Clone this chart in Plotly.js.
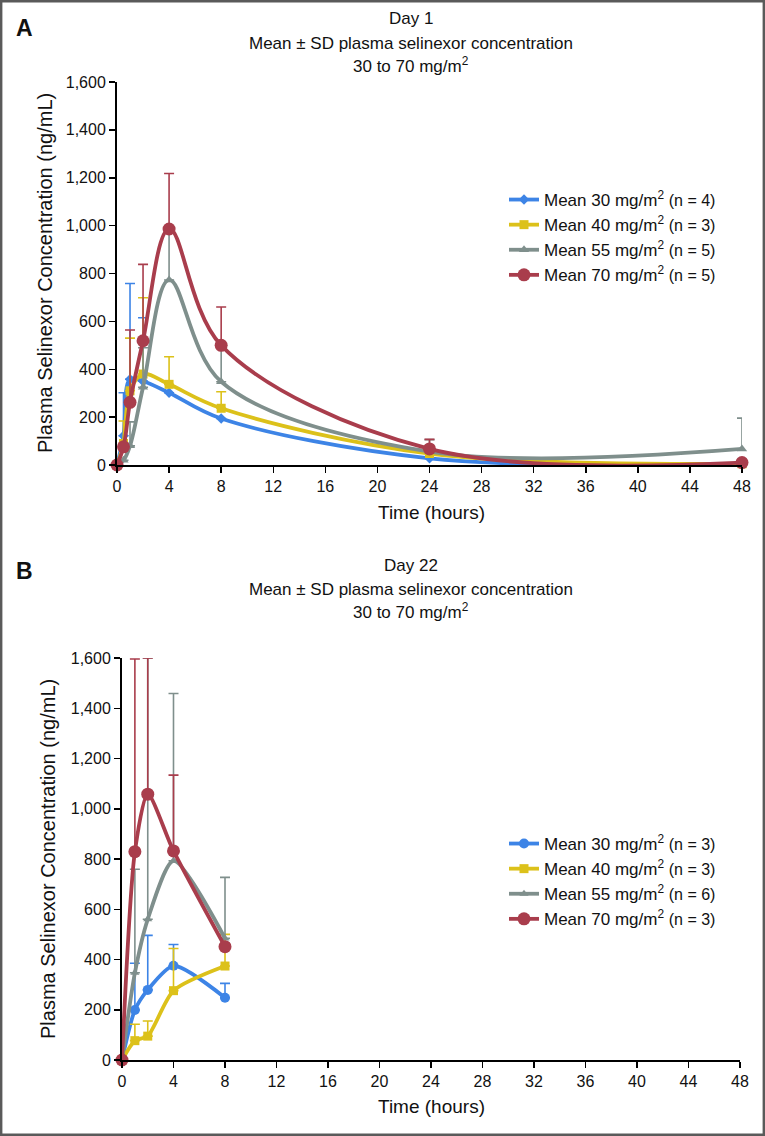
<!DOCTYPE html>
<html>
<head>
<meta charset="utf-8">
<script src="https://cdn.plot.ly/plotly-3.0.1.min.js"></script>
<style>
  html, body { margin: 0; padding: 0; background: #fff; }
  #chart { width: 765px; height: 1136px; }
</style>
</head>
<body>
<div id="chart"></div>
<script>
// ---------- Data ----------
const timeDay1 = [0, 0.5, 1, 2, 4, 8, 24, 48];
const day1Mean30 = [0, 122, 358, 350, 302, 194, 28, 3];
const day1Sd30   = [0, 180, 400, 265, 0, 0, 0, 0];
const day1Mean40 = [0, 90, 310, 380, 337, 237, 48, 5];
const day1Sd40   = [0, 94, 220, 319, 115, 69, 0, 0];
const day1Mean55 = [0, 20, 80, 325, 773, 348, 56, 67];
const day1Sd55   = [0, 0, 100, 165, 210, 150, 50, 129];
const day1Mean70 = [0, 76, 262, 519, 986, 500, 67, 10];
const day1Sd70   = [0, 0, 302, 319, 232, 160, 40, 0];

const timeDay22 = [0, 1, 2, 4, 8];
const day22Mean30 = [0, 199, 279, 375, 248];
const day22Sd30   = [0, 186, 217, 85, 57];
const day22Mean40 = [0, 77, 95, 276, 374];
const day22Sd40   = [0, 65, 60, 168, 126];
const day22Mean55 = [0, 347, 560, 793, 484];
const day22Sd55   = [0, 412, 1040, 666, 243];
const day22Mean70 = [0, 829, 1058, 832, 451];
const day22Sd70   = [0, 767, 542, 302, 0];

const legendDay1 = [
  "Mean 30 mg/m<sup>2</sup> <span style='font-size:16px'>(n = 4)</span>",
  "Mean 40 mg/m<sup>2</sup> <span style='font-size:16px'>(n = 3)</span>",
  "Mean 55 mg/m<sup>2</sup> <span style='font-size:16px'>(n = 5)</span>",
  "Mean 70 mg/m<sup>2</sup> <span style='font-size:16px'>(n = 5)</span>"
];
const legendDay22 = [
  "Mean 30 mg/m<sup>2</sup> <span style='font-size:16px'>(n = 3)</span>",
  "Mean 40 mg/m<sup>2</sup> <span style='font-size:16px'>(n = 3)</span>",
  "Mean 55 mg/m<sup>2</sup> <span style='font-size:16px'>(n = 6)</span>",
  "Mean 70 mg/m<sup>2</sup> <span style='font-size:16px'>(n = 3)</span>"
];
const xTicks = [0, 4, 8, 12, 16, 20, 24, 28, 32, 36, 40, 44, 48];
const xTitle = "Time (hours)";
const yTitle = "Plasma Selinexor Concentration (ng/mL)";

// ---------- Styles ----------
const COLORS = ["#3d84e6", "#dcc11a", "#7f8f8c", "#a93d4c"];
const FONT = "Liberation Sans, Arial, Helvetica, sans-serif";
const W = 765, H = 1136;

function mk(x, y, sd, name, color, symbol, size, xa, ya, legend, smoothing) {
  return {
    type: "scatter", mode: "lines+markers",
    x: x, y: y, name: name,
    xaxis: xa, yaxis: ya, legend: legend,
    cliponaxis: false,
    line: { color: color, width: 3.8, shape: "spline", smoothing: smoothing },
    marker: { color: color, symbol: symbol, size: size },
    error_y: { type: "data", array: sd, symmetric: false,
               arrayminus: sd.map(() => 0),
               color: color, thickness: 1.6, width: 5, visible: true }
  };
}

const traces = [
  mk(timeDay1, day1Mean30, day1Sd30, legendDay1[0], COLORS[0], "diamond", 8, "x", "y", "legend", 1),
  mk(timeDay1, day1Mean40, day1Sd40, legendDay1[1], COLORS[1], "square", 9, "x", "y", "legend", 1),
  mk(timeDay1, day1Mean55, day1Sd55, legendDay1[2], COLORS[2], "triangle-up", 9, "x", "y", "legend", 1),
  mk(timeDay1, day1Mean70, day1Sd70, legendDay1[3], COLORS[3], "circle", 13, "x", "y", "legend", 1),
  mk(timeDay22, day22Mean30, day22Sd30, legendDay22[0], COLORS[0], "circle", 10, "x2", "y2", "legend2", 0.7),
  mk(timeDay22, day22Mean40, day22Sd40, legendDay22[1], COLORS[1], "square", 9, "x2", "y2", "legend2", 0.7),
  mk(timeDay22, day22Mean55, day22Sd55, legendDay22[2], COLORS[2], "triangle-up", 8, "x2", "y2", "legend2", 0.7),
  mk(timeDay22, day22Mean70, day22Sd70, legendDay22[3], COLORS[3], "circle", 13, "x2", "y2", "legend2", 0.7)
];

function xAxis(domain, anchor) {
  return {
    domain: domain, anchor: anchor, range: [0, 48],
    tickmode: "array", tickvals: xTicks, ticktext: xTicks.map(String),
    ticks: "outside", ticklen: 6, tickwidth: 1.5, tickcolor: "#000",
    showline: true, linewidth: 2, linecolor: "#000",
    showgrid: false, zeroline: false,
    tickfont: { family: FONT, size: 16, color: "#111" },
    automargin: false, fixedrange: true
  };
}
function yAxis(domain, anchor) {
  return {
    domain: domain, anchor: anchor, range: [0, 1600], dtick: 200, tick0: 0,
    tickformat: ",d",
    ticks: "outside", ticklen: 6, tickwidth: 1.5, tickcolor: "#000",
    showline: true, linewidth: 2, linecolor: "#000",
    showgrid: false, zeroline: false,
    tickfont: { family: FONT, size: 16, color: "#111" },
    automargin: false, fixedrange: true
  };
}

function ann(text, xpx, ypx, size, bold, angle) {
  return {
    xref: "paper", yref: "paper", x: xpx / W, y: 1 - ypx / H,
    xanchor: "center", yanchor: "middle", showarrow: false,
    textangle: angle || 0,
    text: bold ? "<b>" + text + "</b>" : text,
    font: { family: FONT, size: size, color: "#111" }
  };
}

const layout = {
  width: W, height: H,
  margin: { l: 0, r: 0, t: 0, b: 0 },
  paper_bgcolor: "#fff", plot_bgcolor: "rgba(0,0,0,0)",
  font: { family: FONT, color: "#111" },
  showlegend: true,
  xaxis: xAxis([117 / W, 742 / W], "y"),
  yaxis: yAxis([1 - 465 / H, 1 - 82 / H], "x"),
  xaxis2: xAxis([122 / W, 740 / W], "y2"),
  yaxis2: yAxis([1 - 1060 / H, 1 - 658 / H], "x2"),
  legend: {
    x: 504 / W, y: 1 - 182 / H, xanchor: "left", yanchor: "top",
    bgcolor: "rgba(0,0,0,0)", borderwidth: 0,
    font: { family: FONT, size: 17, color: "#111" }, tracegroupgap: 0
  },
  legend2: {
    x: 504 / W, y: 1 - 826 / H, xanchor: "left", yanchor: "top",
    bgcolor: "rgba(0,0,0,0)", borderwidth: 0,
    font: { family: FONT, size: 17, color: "#111" }, tracegroupgap: 0
  },
  annotations: [
    ann("A", 24, 28, 23, true),
    ann("Day 1", 411, 19, 17),
    ann("Mean ± SD plasma selinexor concentration", 411, 43, 17),
    ann("30 to 70 mg/m<sup>2</sup>", 411, 65, 17),
    ann(xTitle, 431, 512, 19),
    ann(yTitle, 45, 273, 20, false, -90),
    ann("B", 24, 571, 23, true),
    ann("Day 22", 411, 566, 17),
    ann("Mean ± SD plasma selinexor concentration", 411, 589, 17),
    ann("30 to 70 mg/m<sup>2</sup>", 411, 611, 17),
    ann(xTitle, 431, 1106, 19),
    ann(yTitle, 48, 859, 20, false, -90)
  ],
  shapes: [
    { type: "rect", xref: "paper", yref: "paper",
      x0: 1.2 / W, x1: 1 - 1.2 / W, y0: 1.2 / H, y1: 1 - 1.2 / H,
      line: { color: "#5a5a5a", width: 2.4 }, fillcolor: "rgba(0,0,0,0)" }
  ]
};

Plotly.newPlot("chart", traces, layout, { staticPlot: true, displayModeBar: false });
</script>
</body>
</html>
